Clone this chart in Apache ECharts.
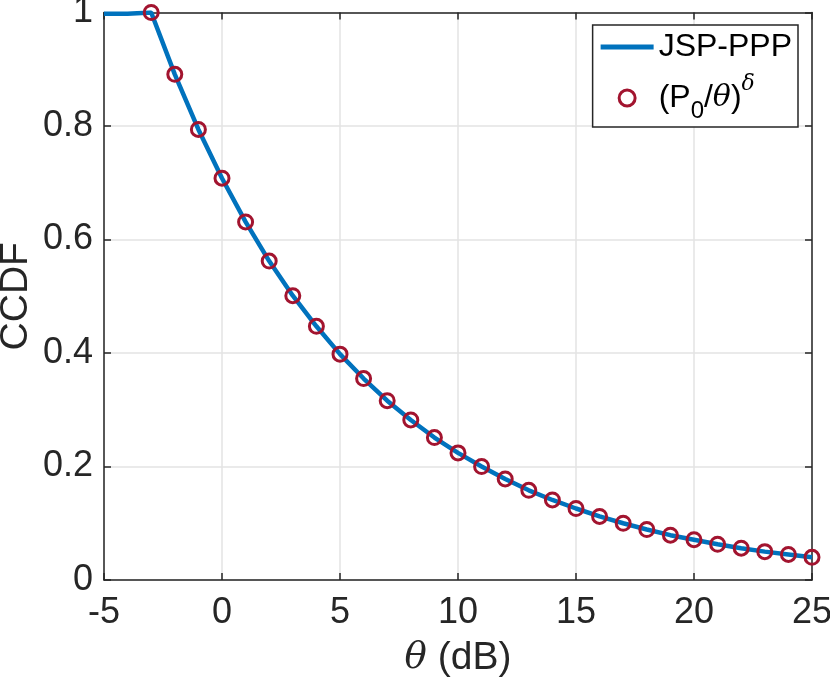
<!DOCTYPE html>
<html>
<head>
<meta charset="utf-8">
<script src="https://cdn.jsdelivr.net/npm/echarts@6/dist/echarts.min.js"></script>
<style>
  html, body { margin: 0; padding: 0; background: #fff; }
  #chart { width: 830px; height: 681px; }
</style>
</head>
<body>
<div id="chart"></div>
<script>
// theta in dB, CCDF values
const lineTheta = [-5, -4, -3, -2, -1, 0, 1, 2, 3, 4, 5, 6, 7, 8, 9, 10, 11, 12, 13, 14, 15, 16, 17, 18, 19, 20, 21, 22, 23, 24, 25];
const lineCcdf = [0.998, 0.998, 1, 0.891, 0.794, 0.708, 0.631, 0.562, 0.501, 0.447, 0.398, 0.355, 0.316, 0.282, 0.251, 0.224, 0.2, 0.178, 0.158, 0.141, 0.126, 0.112, 0.1, 0.089, 0.079, 0.071, 0.063, 0.056, 0.05, 0.045, 0.04];
const markTheta = [-3, -2, -1, 0, 1, 2, 3, 4, 5, 6, 7, 8, 9, 10, 11, 12, 13, 14, 15, 16, 17, 18, 19, 20, 21, 22, 23, 24, 25];
const markCcdf = [1, 0.891, 0.794, 0.708, 0.631, 0.562, 0.501, 0.447, 0.398, 0.355, 0.316, 0.282, 0.251, 0.224, 0.2, 0.178, 0.158, 0.141, 0.126, 0.112, 0.1, 0.089, 0.079, 0.071, 0.063, 0.056, 0.05, 0.045, 0.04];

const font = 'Liberation Sans';
const axisColor = '#262626';
const gridColor = '#e3e3e3';
const blue = '#0072BD';
const red = '#A2142F';

const myChart = echarts.init(document.getElementById('chart'));

const baseX = {
  type: 'value', min: -5, max: 25, interval: 5,
  axisLine: { show: true, onZero: false, lineStyle: { color: axisColor, width: 1.5 } },
  axisTick: { show: true, inside: true, length: 7, lineStyle: { color: axisColor, width: 1.5 } },
};
const baseY = {
  type: 'value', min: 0, max: 1, interval: 0.2,
  axisLine: { show: true, onZero: false, lineStyle: { color: axisColor, width: 1.5 } },
  axisTick: { show: true, inside: true, length: 7, lineStyle: { color: axisColor, width: 1.5 } },
};

const option = {
  animation: false,
  backgroundColor: '#fff',
  grid: { left: 104, right: 18, top: 12.5, bottom: 101, containLabel: false, outerBoundsMode: 'none' },
  legend: {
    right: 32, top: 25,
    orient: 'vertical',
    itemWidth: 53, itemHeight: 16, itemGap: 10,
    padding: [6, 6, 4, 8],
    borderColor: axisColor, borderWidth: 1.5, borderRadius: 0,
    backgroundColor: '#fff',
    textStyle: {
      fontFamily: font, fontSize: 32, color: '#000',
      rich: {
        n: { fontFamily: font, fontSize: 32, color: '#000' },
        sub: { fontFamily: font, fontSize: 24, color: '#000', verticalAlign: 'bottom', padding: [26, 0, 0, 0] },
        it: { fontFamily: 'DejaVu Serif', fontStyle: 'italic', fontSize: 30, color: '#000' },
        sup: { fontFamily: 'DejaVu Serif', fontStyle: 'italic', fontSize: 22, color: '#000', verticalAlign: 'top', padding: [0, 0, 22, 0] }
      }
    },
    formatter: function (name) {
      if (name === 'JSP-PPP') return '{n|JSP-PPP}';
      return '{n|(P}{sub|0}{n|/}{it|θ}{n|)}{sup|δ}';
    },
    data: [
      { name: 'JSP-PPP', icon: 'path://M0,0 L53,0 L53,5 L0,5 Z' },
      { name: 'ref', icon: 'circle', itemStyle: { color: '#fff', borderColor: red, borderWidth: 3 } }
    ]
  },
  xAxis: [
    Object.assign({}, baseX, {
      position: 'bottom',
      name: '{it|θ} (dB)',
      nameLocation: 'middle',
      nameGap: 59,
      nameMoveOverlap: false,
      nameTextStyle: {
        fontFamily: font, fontSize: 39, color: '#262626',
        rich: { it: { fontFamily: 'DejaVu Serif', fontStyle: 'italic', fontSize: 37, color: '#262626' } }
      },
      axisLabel: { fontFamily: font, fontSize: 36, color: '#262626', margin: 15 },
      splitLine: { show: true, lineStyle: { color: gridColor, width: 1.5 } }
    }),
    Object.assign({}, baseX, {
      position: 'top',
      axisLabel: { show: false },
      splitLine: { show: false }
    })
  ],
  yAxis: [
    Object.assign({}, baseY, {
      position: 'left',
      name: 'CCDF',
      nameLocation: 'middle',
      nameGap: 68,
      nameMoveOverlap: false,
      nameTextStyle: { fontFamily: font, fontSize: 39, color: '#262626' },
      axisLabel: { fontFamily: font, fontSize: 36, color: '#262626', margin: 11 },
      splitLine: { show: true, lineStyle: { color: gridColor, width: 1.5 } }
    }),
    Object.assign({}, baseY, {
      position: 'right',
      axisLabel: { show: false },
      splitLine: { show: false }
    })
  ],
  series: [
    {
      name: 'JSP-PPP',
      type: 'line',
      data: lineTheta.map((t, i) => [t, lineCcdf[i]]),
      showSymbol: false,
      symbol: 'none',
      itemStyle: { color: blue },
      lineStyle: { color: blue, width: 4.5 },
      z: 2
    },
    {
      name: 'ref',
      type: 'scatter',
      data: markTheta.map((t, i) => [t, markCcdf[i]]),
      symbol: 'circle',
      symbolSize: 14,
      itemStyle: { color: 'rgba(0,0,0,0)', borderColor: red, borderWidth: 3, opacity: 1 },
      z: 3
    }
  ]
};

if (option && typeof option === 'object') {
  myChart.setOption(option, true);
}
</script>
</body>
</html>
